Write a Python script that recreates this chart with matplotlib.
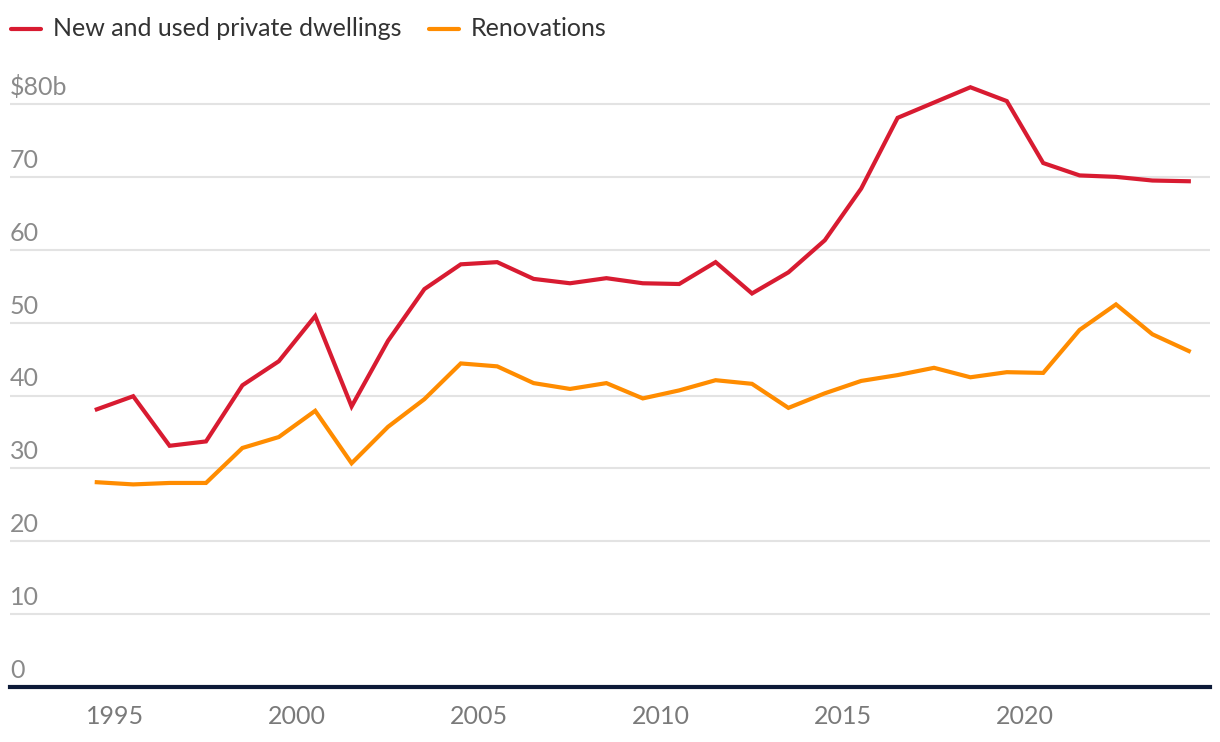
import matplotlib
matplotlib.use("Agg")
import matplotlib.pyplot as plt
from matplotlib.lines import Line2D

plt.rcParams['font.family'] = ['Lato', 'DejaVu Sans']

years = [1994.5 + i for i in range(31)]
dwellings = [38.1, 39.9, 33.1, 33.7, 41.4, 44.7, 50.9, 38.5, 47.5, 54.6,
             58.0, 58.3, 56.0, 55.4, 56.1, 55.4, 55.3, 58.3, 54.0, 56.9,
             61.3, 68.4, 78.1, 80.2, 82.3, 80.4, 71.9, 70.2, 70.0, 69.5, 69.4]
renovations = [28.1, 27.8, 28.0, 28.0, 32.8, 34.3, 37.9, 30.7, 35.7, 39.5,
               44.4, 44.0, 41.7, 40.9, 41.7, 39.6, 40.7, 42.1, 41.6, 38.3,
               40.3, 42.0, 42.8, 43.8, 42.5, 43.2, 43.1, 49.0, 52.5, 48.4, 46.1]
x_ticks = [1995, 2000, 2005, 2010, 2015, 2020]
y_ticks = [0, 10, 20, 30, 40, 50, 60, 70, 80]
y_labels = ['0', '10', '20', '30', '40', '50', '60', '70', '$80b']
series_names = ['New and used private dwellings', 'Renovations']

RED = '#d81b31'
ORANGE = '#ff8c00'

W, H = 1220, 742
fig = plt.figure(figsize=(W / 100, H / 100), dpi=100)
ax = fig.add_axes([10 / W, (H - 687) / H, 1200 / W, (687 - 60) / H])

x0 = 1995 - 105 / 36.4
x1 = 1995 + 1095 / 36.4
ax.set_xlim(x0, x1)
top = 80 * (687 - 60) / (687 - 104)
ax.set_ylim(0, top)

for yv in y_ticks[1:]:
    ax.axhline(yv, color='#e3e3e3', lw=1.5, zorder=1)
ax.axhline(0, color='#0d1a38', lw=3, zorder=4, clip_on=False)

ax.plot(years, dwellings, color=RED, lw=3, zorder=3, solid_joinstyle='miter')
ax.plot(years, renovations, color=ORANGE, lw=3, zorder=3, solid_joinstyle='miter')

for sp in ax.spines.values():
    sp.set_visible(False)
ax.set_yticks([])
ax.set_xticks(x_ticks)
ax.set_xticklabels([str(t) for t in x_ticks], fontsize=18, color='#7a7a7a')
ax.tick_params(axis='x', length=0, pad=13)

for yv, lab in zip(y_ticks, y_labels):
    ax.text(x0, yv + 0.7, lab, fontsize=18, color='#8a8a8a', ha='left', va='bottom')

# legend
def legend_item(xl0, xl1, xt, label, color):
    y = 1 - 29 / H
    fig.add_artist(Line2D([xl0 / W, xl1 / W], [y, y], color=color, lw=3,
                          solid_capstyle='round'))
    fig.text(xt / W, y, label, fontsize=18, color='#333333', ha='left', va='center')

legend_item(11, 41, 53, series_names[0], RED)
legend_item(429, 459, 471, series_names[1], ORANGE)

fig.savefig('out.png', dpi=100, facecolor='white')
